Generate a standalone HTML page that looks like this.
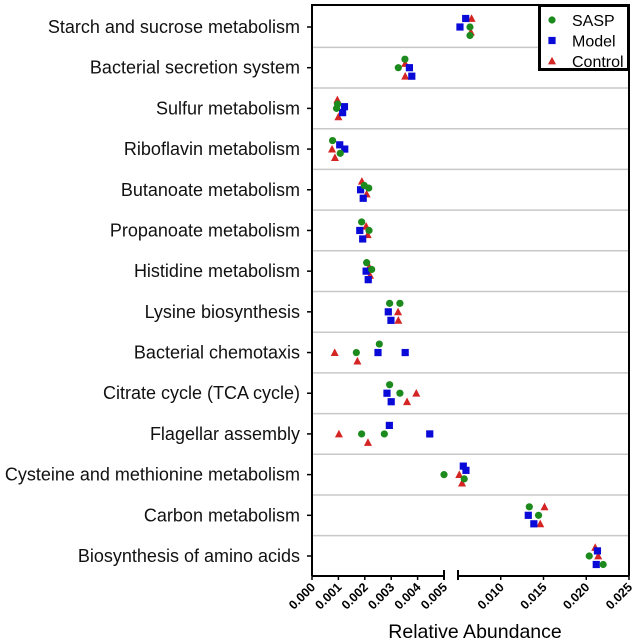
<!DOCTYPE html>
<html><head><meta charset="utf-8"><style>
html,body{margin:0;padding:0;background:#fff;}
svg{display:block;font-family:"Liberation Sans",Arial,sans-serif;}
</style></head><body>
<svg id="chart" width="633" height="644"></svg>
<script>
const categories=["Starch and sucrose metabolism","Bacterial secretion system","Sulfur metabolism","Riboflavin metabolism","Butanoate metabolism","Propanoate metabolism","Histidine metabolism","Lysine biosynthesis","Bacterial chemotaxis","Citrate cycle (TCA cycle)","Flagellar assembly","Cysteine and methionine metabolism","Carbon metabolism","Biosynthesis of amino acids"];
const seriesNames=["SASP","Model","Control"];
const saspValues=[[0.0064,0.0064],[0.00352,0.00327],[0.00097,0.00093],[0.00078,0.00107],[0.00198,0.00215],[0.00188,0.00216],[0.00207,0.00226],[0.00294,0.00333],[0.00255,0.00168],[0.00294,0.00333],[0.00188,0.00274],[0.0050,0.00573],[0.01334,0.01442],[0.02035,0.02198]];
const saspLevels=[[0,1],[-1,0],[-0.5,0],[-1,0.5],[-0.5,-0.2],[-1,0],[-1,-0.2],[-1,-1],[-1,0],[-1,0],[0,0],[0,0.5],[-1,0],[0,1]];
const modelValues=[[0.0059,0.00523],[0.00369,0.00378],[0.00123,0.00116],[0.00105,0.00124],[0.00184,0.00194],[0.00181,0.00192],[0.00205,0.00213],[0.00289,0.00299],[0.0025,0.00353],[0.00284,0.003],[0.00293,0.00446],[0.00562,0.00593],[0.01322,0.01387],[0.02131,0.02117]];
const modelLevels=[[-1,0],[0,1],[-0.2,0.5],[-0.5,0],[0,1],[0,1],[0,1],[0,1],[0,0],[0,1],[-1,0],[-1,-0.5],[0,1],[-0.6,1]];
const controlValues=[[0.00659,0.00651],[0.00353,0.00353],[0.00096,0.001],[0.00076,0.00087],[0.00189,0.00207],[0.00205,0.00211],[0.00217,0.0022],[0.00326,0.00327],[0.00086,0.00172],[0.00395,0.0036],[0.00102,0.00212],[0.00515,0.00547],[0.01512,0.01462],[0.02105,0.0214]];
const controlLevels=[[-1,0.6],[-0.5,1],[-1,1],[0,1],[-1,0.5],[-0.5,0.5],[-0.5,0.5],[0,1],[0,1],[0,1],[0,1],[0,1],[-1,1],[-1,0]];
const leftTicks=[0,0.001,0.002,0.003,0.004,0.005];
const leftTickLabels=["0.000","0.001","0.002","0.003","0.004","0.005"];
const rightTicks=[0.010,0.015,0.020,0.025];
const rightTickLabels=["0.010","0.015","0.020","0.025"];

const NS="http://www.w3.org/2000/svg";
const svg=document.getElementById('chart');
function mk(tag,attrs,parent){const e=document.createElementNS(NS,tag);for(const k in attrs)e.setAttribute(k,attrs[k]);(parent||svg).appendChild(e);return e;}
const L0=312,L1=444,R0=458,R1=629,TOP=5,BOT=576;
function xScale(v){ if(v<=0.005) return L0+(v/0.005)*(L1-L0); return R0+((v-0.005)/0.02)*(R1-R0);}
const rowTop=27,rowStep=(556-27)/13;
function yScale(i){return rowTop+i*rowStep;}
const LV=8.5;

for(let i=0;i<categories.length-1;i++){
  const y=(yScale(i)+yScale(i+1))/2;
  const s=mk('line',{x1:L0,x2:R1,y1:y,y2:y,stroke:'#c8c8c8','stroke-width':1.5});
  
  
}
const fr=mk('path',{d:`M${L0},${BOT} L${L0},${TOP} L${R1},${TOP} L${R1},${BOT}`,fill:'none',stroke:'#000','stroke-width':2});


const ax1=mk('line',{x1:L0,x2:L1,y1:BOT,y2:BOT,stroke:'#000','stroke-width':2});


const ax2=mk('line',{x1:R0,x2:R1,y1:BOT,y2:BOT,stroke:'#000','stroke-width':2});


const b1=mk('line',{x1:L1,x2:L1,y1:BOT-6,y2:BOT+4,stroke:'#000','stroke-width':2});


const b2=mk('line',{x1:R0,x2:R0,y1:BOT-6,y2:BOT+4,stroke:'#000','stroke-width':2});



categories.forEach((c,i)=>{
  const y=yScale(i);
  const t=mk('line',{x1:L0-5,x2:L0,y1:y,y2:y,stroke:'#000','stroke-width':1.5});
  
  
  const tx=mk('text',{x:300,y:y+6,'text-anchor':'end','font-size':'18',fill:'#111'});
  tx.textContent=c;
  
  
});
function xtick(v,lab){
  const x=xScale(v);
  const t=mk('line',{x1:x,x2:x,y1:BOT,y2:BOT+4,stroke:'#000','stroke-width':1.5});
  
  
  const tx=mk('text',{x:x+4,y:BOT+12,'text-anchor':'end','font-size':'12.5','font-weight':'bold',transform:`rotate(-45 ${x+4} ${BOT+12})`});
  tx.textContent=lab;
  
  
}
leftTicks.forEach((v,i)=>xtick(v,leftTickLabels[i]));
rightTicks.forEach((v,i)=>xtick(v,rightTickLabels[i]));
const xt=mk('text',{x:475,y:638,'text-anchor':'middle','font-size':'19.5'});
xt.textContent='Relative Abundance';



const colors=['#1c8a1c','#0a0ad8','#d42424'];
function marker(kind,x,y,parent){
  let e;
  if(kind===0) e=mk('circle',{cx:x,cy:y,r:3.6,fill:colors[0]},parent);
  else if(kind===1) e=mk('rect',{x:x-3.6,y:y-3.6,width:7.2,height:7.2,fill:colors[1]},parent);
  else e=mk('polygon',{points:`${x},${y-4.2} ${x+4},${y+3.4} ${x-4},${y+3.4}`,fill:colors[2]},parent);
  return e;
}
const allVals=[saspValues,modelValues,controlValues];
const allLv=[saspLevels,modelLevels,controlLevels];
const markNames=['sasp-point','model-point','control-point'];
[2,1,0].forEach(s=>{
  allVals[s].forEach((vals,i)=>{
    vals.forEach((v,k)=>{
      const m=marker(s,xScale(v),yScale(i)+allLv[s][i][k]*LV);
      
      
    });
  });
});

const lg=mk('g',{});


mk('rect',{x:539.5,y:5.5,width:89,height:64,fill:'#fff',stroke:'#000','stroke-width':3},lg);
seriesNames.forEach((n,i)=>{
  const y=20+i*20.5;
  const m=marker(i,552,y,lg);
  
  
  const t=mk('text',{x:572,y:y+6,'font-size':'16'},lg);
  t.textContent=n;
  
  
});
</script>
</body></html>
